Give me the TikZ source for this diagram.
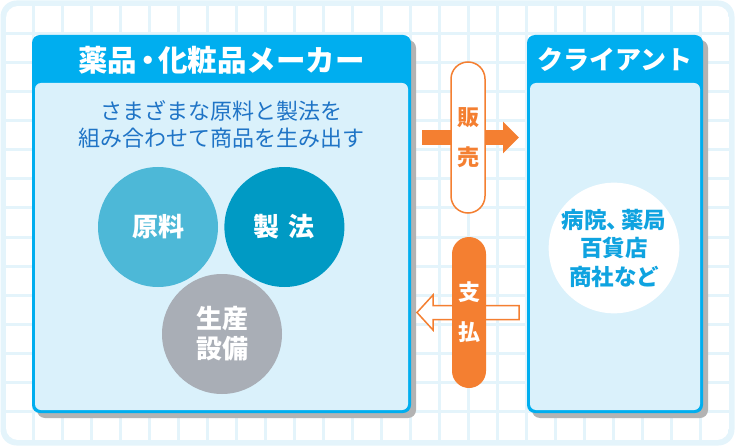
\documentclass[tikz,border=0pt]{standalone}
\usepackage{fontspec}
\setmainfont{Noto Sans CJK JP}
\usetikzlibrary{arrows.meta,shadows,positioning}

\definecolor{frameblue}{HTML}{E4F4FB}
\definecolor{panelcyan}{HTML}{00AEEF}
\definecolor{panellight}{HTML}{DAF1FB}
\definecolor{shadowgray}{HTML}{B3B3B3}
\definecolor{textblue}{HTML}{1F74C6}
\definecolor{clienttext}{HTML}{0FA3E0}
\definecolor{flowor}{HTML}{F47F31}
\definecolor{rawcol}{HTML}{4DB8D7}
\definecolor{methodcol}{HTML}{009AC4}
\definecolor{plantcol}{HTML}{A9AEB6}

\begin{document}
\begin{tikzpicture}[x=1pt,y=-1pt,
	panel/.style={fill=panelcyan,rounded corners=8pt,inner sep=0pt,minimum height=378pt,drop shadow={shadow xshift=5pt,shadow yshift=-5pt,fill=shadowgray,opacity=1}},
	inner panel/.style={fill=panellight,rounded corners=6pt,inner sep=0pt,minimum height=327pt},
	title/.style={text=white,font=\fontsize{29.5}{30}\selectfont\bfseries},
	topic/.style={circle,inner sep=0pt,minimum size=120pt,text=white,align=center,font=\fontsize{26}{30}\selectfont\bfseries},
	pill/.style={rounded corners=17pt,minimum width=34pt,minimum height=151pt,inner sep=0pt,align=center,font=\fontsize{22}{40}\selectfont\bfseries},
	gridline/.style={frameblue,line width=3pt}]
		 \useasboundingbox (0,0) rectangle (735,446);
		 \fill[frameblue,rounded corners=16pt] (0.5,0.5) rectangle (734.5,445.5);
		 \begin{scope}
		 \clip[rounded corners=12pt] (6,6) rectangle (729,440);
		 \fill[white] (6,6) rectangle (729,440);
		 \foreach \x in {33,62,...,700} \draw[gridline] (\x,6) -- (\x,440);
		 \foreach \y in {34,63,...,411} \draw[gridline] (6,\y) -- (729,\y);
		 \end{scope}

		 \node[panel,minimum width=379pt]        (maker)      at (221.5,224)   {};
		 \node[panel,minimum width=176pt]        (client)     at (615,224)     {};
		 \node[inner panel,minimum width=373pt]  (makerbody)  at (221.5,246.5) {};
		 \node[inner panel,minimum width=170pt]  (clientbody) at (615,246.5)   {};
		 \node[title]                            (makertitle) at (221.5,60)    {薬品\kern-0.15em・\kern-0.15em化粧品メーカー};
		 \node[title,font=\fontsize{26}{30}\selectfont\bfseries] (clienttitle) at (615,60) {クライアント};

		 \node[text=textblue,align=center,font=\fontsize{22}{27}\selectfont] (lead) at (221.5,124) {さまざまな原料と製法を\\組み合わせて商品を生み出す};
		 \node[topic,fill=rawcol]                (raw)        at (158,227)     {原料};
		 \node[topic,fill=methodcol]             (method)     [right=6pt of raw] {製\hspace{0.35em}法};
		 \node[topic,fill=plantcol]              (plant)      at (222,334)     {生産\\設備};

		 \node[circle,fill=white,minimum size=128pt,inner sep=0pt,text=clienttext,align=center,font=\fontsize{22.5}{28.5}\selectfont\bfseries] (buyers) at (614,248) {病院、\kern-0.35em薬局\\百貨店\\商社など};

		 % sales arrow and payment arrow
		 \coordinate (sellA) at (422,137.5);
		 \coordinate (sellB) at (519,137.5);
		 \draw[flowor,line width=15pt,-{Triangle[length=16pt,width=31pt]}] (sellA) -- (sellB);
		 \coordinate (payA) at (519,312.5);
		 \coordinate (payB) at (417,312.5);
		 \draw[flowor,fill=white,line width=1.5pt,line join=miter] (payA) ++(0,-7) -- ++(-86,0) -- ++(0,-10.5) -- (payB) -- ++(16,17.5) -- ++(0,-10.5) -- ++(86,0) -- cycle;

		 \node[pill,draw=flowor,line width=1.5pt,fill=white,text=flowor] (sell) at (468,137.5) {販\\売};
		 \node[pill,fill=flowor,text=white]      (pay)        at (469,312.5)   {支\\払};
	\end{tikzpicture}
\end{document}
